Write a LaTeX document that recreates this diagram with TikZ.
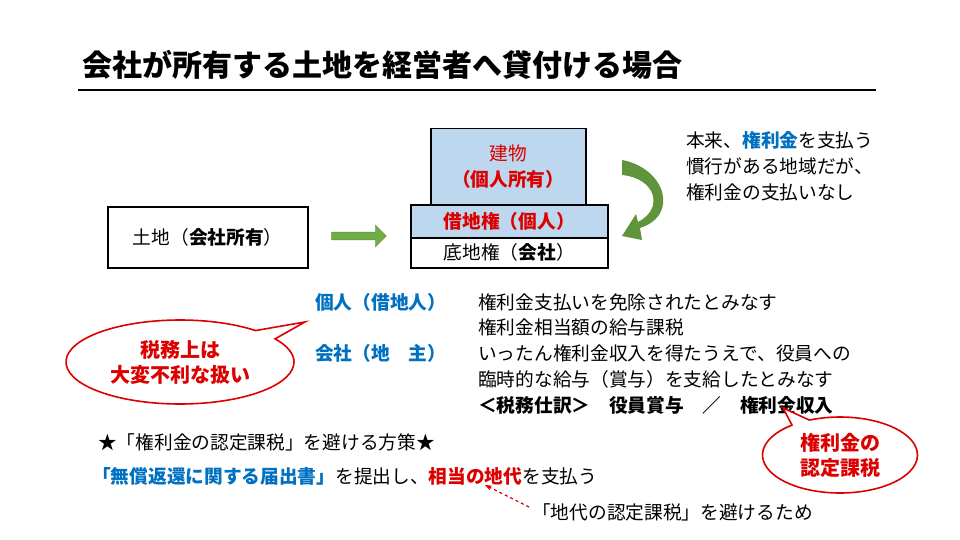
\documentclass[tikz,border=0pt]{standalone}
\usepackage{fontspec}
\setmainfont{Noto Sans CJK JP}
\usetikzlibrary{shapes.callouts,arrows.meta,shapes.arrows}
\definecolor{lb}{RGB}{189,215,238}
\definecolor{bl}{RGB}{0,112,192}
\definecolor{rd}{RGB}{220,0,0}
\definecolor{gr}{RGB}{112,173,71}
\newcommand{\fs}{\fontsize{18.7}{21}\selectfont}
\begin{document}
\begin{tikzpicture}[x=1pt,y=-1pt,
  txt/.style={anchor=west,inner sep=0,font=\fs},
  boxs/.style={draw,line width=1.5pt,inner sep=0},
  callo/.style={ellipse callout,draw=rd,line width=1.6pt,fill=white,text=rd,font=\bfseries\fontsize{20}{25}\selectfont,align=center,inner sep=0}]
\useasboundingbox (0,0) rectangle (960,540);
\node[anchor=west,inner sep=0,font=\bfseries\fontsize{30}{32}\selectfont] (title) at (82,65) {会社が所有する土地を経営者へ貸付ける場合};
\draw[line width=2pt] (78,90) coordinate (l1) -- (876,90) coordinate (l2);
\node[boxs,minimum width=200,minimum height=61,anchor=north west,font=\fs] (land) at (107,206) {土地（\textbf{会社所有}）};
\node[single arrow,fill=gr,draw=gr!80!black,minimum height=55,minimum width=22,single arrow head extend=4,inner sep=2] (ga) at (357,236) {};
\node[boxs,fill=lb,minimum width=155,minimum height=76,anchor=north west,text=rd,align=center,font=\fontsize{18.7}{26}\selectfont] (bld) at (430,128) {建物\\\textbf{（個人所有）}};
\node[boxs,fill=lb,minimum width=197,minimum height=33,anchor=north west,text=rd,font=\bfseries\fs] (sk) at (410,204) {借地権（個人）};
\node[boxs,minimum width=197,minimum height=30,anchor=north west,font=\fs] (tk) at (410,237) {底地権（\textbf{会社}）};
\fill[gr!85!black] (622,160) .. controls (665,168) and (680,215) .. (640,228) -- (642,240) -- (622,236) -- (636,214) -- (638,222) .. controls (665,208) and (655,178) .. (622,175) -- cycle;
\node[txt] (r1) at (686,140) {本来、\textcolor{bl}{\textbf{権利金}}を支払う};
\node[txt] (r2) at (686,166) {慣行がある地域だが、};
\node[txt] (r3) at (686,192) {権利金の支払いなし};
\node[txt,text=bl,font=\bfseries\fs] (kj) at (315,302) {個人（借地人）};
\node[txt,text=bl,font=\bfseries\fs] (ks) at (315,353) {会社（地　主）};
\node[txt] (a1) at (478,302) {権利金支払いを免除されたとみなす};
\node[txt] (a2) at (478,327) {権利金相当額の給与課税};
\node[txt] (a3) at (478,353) {いったん権利金収入を得たうえで、役員への};
\node[txt] (a4) at (478,379) {臨時的な給与（賞与）を支給したとみなす};
\node[txt,font=\bfseries\fs] (a5) at (478,405) {＜税務仕訳＞　役員賞与　／　権利金収入};
\node[callo,minimum width=228,minimum height=84,callout absolute pointer={(305,322)}] (c1) at (180,362) {税務上は\\大変不利な扱い};
\node[callo,minimum width=155,minimum height=76,callout absolute pointer={(783,408)}] (c2) at (840,455) {権利金の\\認定課税};
\node[txt] (b1) at (98,442) {★「権利金の認定課税」を避ける方策★};
\node[txt] (b2) at (92,476) {\textcolor{bl}{\textbf{「無償返還に関する届出書」}}を提出し、\textcolor{rd}{\textbf{相当の地代}}を支払う};
\node[txt] (b3) at (532,512) {「地代の認定課税」を避けるため};
\draw[rd,dashed,line width=1.2pt,-{Stealth[length=7pt]}] (b3.west) ++(-3,-5) coordinate (d0) -- (485,485) coordinate (d1);
\end{tikzpicture}
\end{document}
